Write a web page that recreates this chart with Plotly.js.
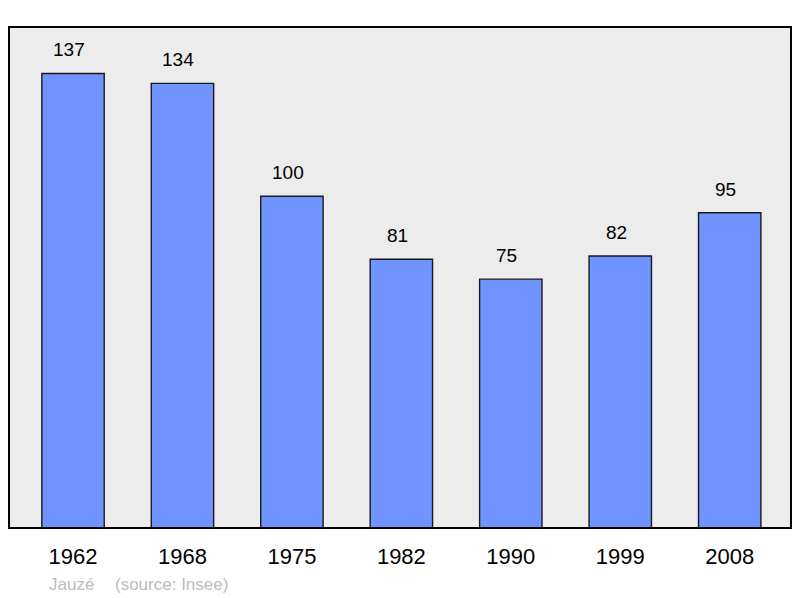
<!DOCTYPE html>
<html>
<head>
<meta charset="utf-8">
<script src="https://cdn.plot.ly/plotly-3.0.1.min.js"></script>
<style>
  html, body { margin: 0; padding: 0; background: #fff; }
  #chart { width: 800px; height: 598px; }
</style>
</head>
<body>
<div id="chart"></div>
<script>
// Population by census year
const years = ['1962', '1968', '1975', '1982', '1990', '1999', '2008'];
const population = [137, 134, 100, 81, 75, 82, 95];

const font = 'Liberation Sans, Arial, sans-serif';

const bars = {
    type: 'bar',
    x: years,
    y: population,
    width: 0.57,
    marker: { color: '#7094ff', line: { color: '#1a1a1a', width: 1.4 } },
    hoverinfo: 'x+y'
};

// value labels above each bar (x by category index so numeric-looking names aren't misread)
const valueLabels = years.map((yr, i) => ({
    x: i, y: population[i], xref: 'x', yref: 'y',
    text: String(population[i]), showarrow: false,
    xanchor: 'center', yanchor: 'bottom', yshift: 11, xshift: -4,
    font: { family: font, size: 19, color: '#000' }
}));

const layout = {
    width: 800, height: 598,
    margin: { l: 9, r: 9, t: 27, b: 70 },
    paper_bgcolor: '#fff',
    plot_bgcolor: '#ececec',
    showlegend: false,
    xaxis: {
        type: 'category',
        range: [-0.585, 6.56],
        ticks: 'outside', ticklen: 9, tickcolor: 'rgba(0,0,0,0)',
        tickfont: { family: font, size: 22, color: '#000' },
        showgrid: false, zeroline: false, showline: false, fixedrange: true
    },
    yaxis: {
        range: [0, 151],
        showticklabels: false, showgrid: false, zeroline: false,
        showline: false, fixedrange: true
    },
    shapes: [{
        type: 'rect', xref: 'paper', yref: 'paper',
        x0: 0, x1: 1, y0: 0, y1: 1,
        line: { color: '#000', width: 2 }
    }],
    annotations: valueLabels.concat([
        { x: 47, y: 584, xref: 'paper', yref: 'paper', text: 'Jauzé', showarrow: false,
          xanchor: 'left', yanchor: 'middle', font: { family: font, size: 17, color: '#bbbbbb' } },
        { x: 113, y: 584, xref: 'paper', yref: 'paper', text: '(source: Insee)', showarrow: false,
          xanchor: 'left', yanchor: 'middle', font: { family: font, size: 17, color: '#bbbbbb' } }
    ])
};

// convert footer pixel positions into paper coordinates
const plotW = 800 - layout.margin.l - layout.margin.r;
const plotH = 598 - layout.margin.t - layout.margin.b;
layout.annotations.forEach(a => {
    if (a.xref === 'paper') {
        a.x = (a.x - layout.margin.l) / plotW;
        a.y = (598 - layout.margin.b - a.y) / plotH;
    }
});

Plotly.newPlot('chart', [bars], layout, { displayModeBar: false, staticPlot: true });
</script>
</body>
</html>
